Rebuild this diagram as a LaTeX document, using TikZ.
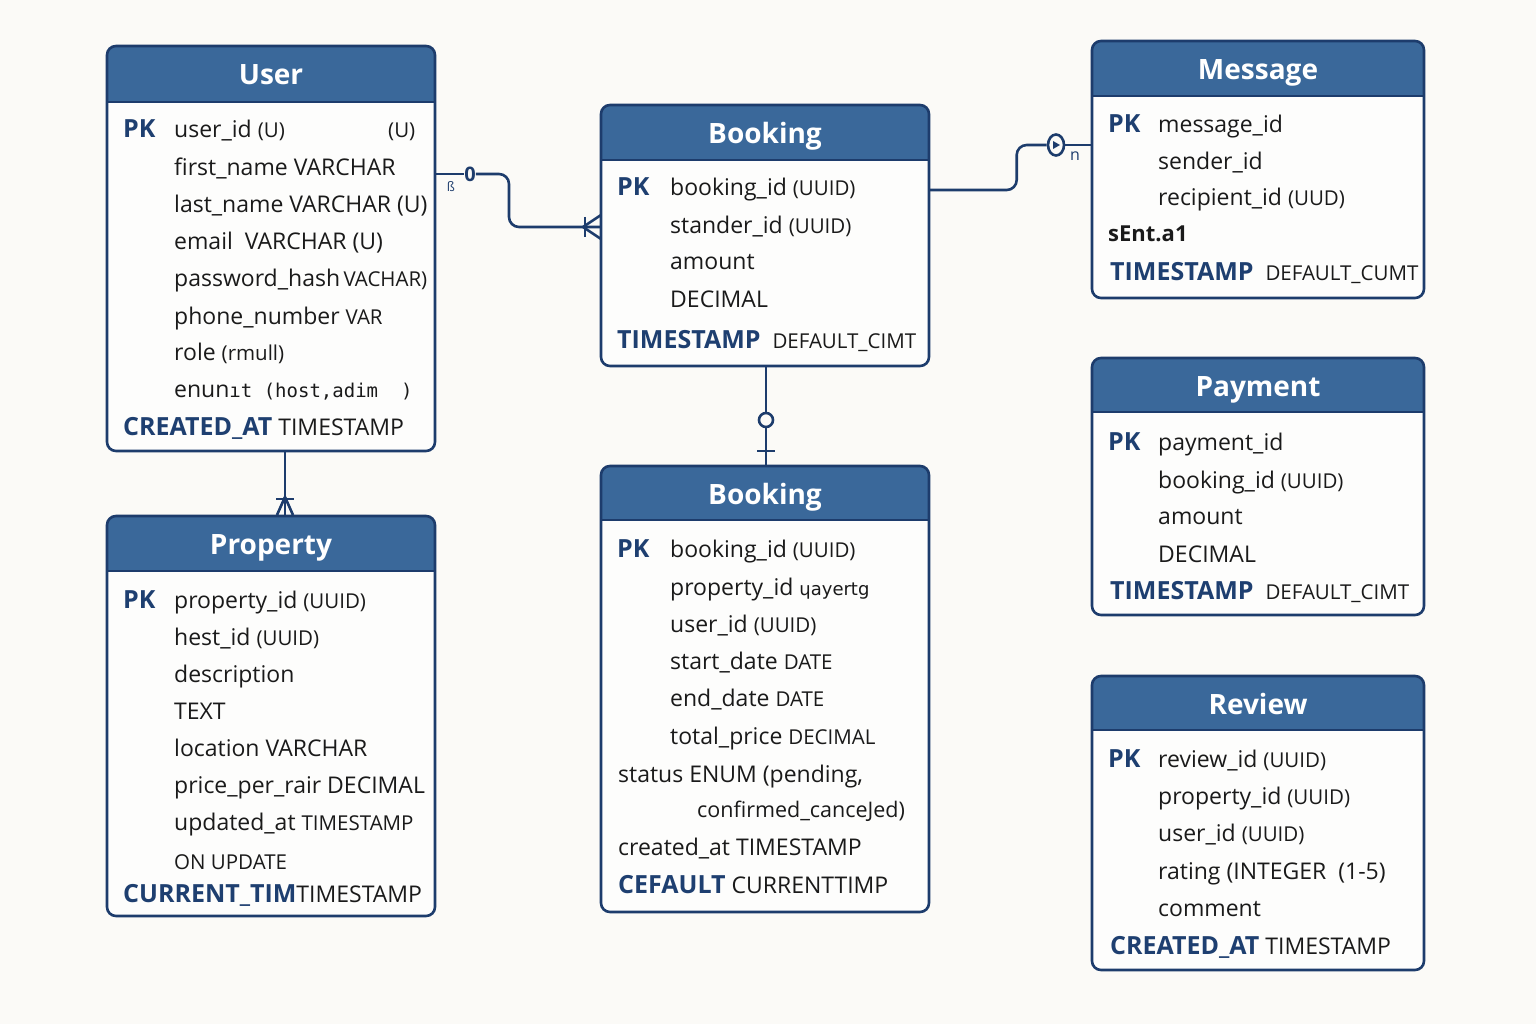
\documentclass[tikz,border=0pt]{standalone}
\usepackage{fontspec}
\setmainfont{Open Sans}
\newfontfamily\dvs{DejaVu Sans}
\newfontfamily\dvm{DejaVu Sans Mono}
\usetikzlibrary{fit,shapes.geometric}
\definecolor{hdr}{HTML}{3A689A}
\definecolor{navy}{HTML}{1D3C6C}
\definecolor{pkc}{HTML}{1E3F70}
\definecolor{bg}{HTML}{FBFAF7}
\definecolor{txt}{HTML}{1A1A1A}
\newcommand\tysz{\fontsize{20.5}{24}\selectfont}
\newcommand\bk[1]{{\color{pkc}\bfseries\fontsize{25}{29}\selectfont #1}}
\newcommand\rw[3]{\node[fld] (#1) at (#2) {#3};}
\newcommand\pkn[2]{\node[pk] (#1) at (#2) {PK};}
\newcommand\erbox[7]{%
  \node[fit={(#2,#3) (#4,#5)}, inner sep=0pt, outer sep=0pt] (#1) {};
  \fill[bodyfill, rounded corners=9pt] (#2,#3) rectangle (#4,#5);
  \begin{scope}\clip[rounded corners=9pt] (#2,#3) rectangle (#4,#5);
  \fill[hdr] (#2,#3) rectangle (#4,#6);\end{scope}
  \draw[border] (#2,#6) -- (#4,#6);
  \draw[border, rounded corners=9pt] (#2,#3) rectangle (#4,#5);
  \node[title] (#1t) at ({(#2+#4)/2},{(#3+#6)/2+11}) {#7};}
\tikzset{
 border/.style={draw=navy, line width=2.6pt},
 bodyfill/.style={fill=white!60!bg},
 title/.style={anchor=base, text=white, font=\bfseries\fontsize{28}{32}\selectfont, inner sep=0pt},
 fld/.style={anchor=base west, inner sep=0pt, text=txt, font=\fontsize{23}{27}\selectfont},
 pk/.style={anchor=base west, inner sep=0pt, text=pkc, font=\bfseries\fontsize{25}{29}\selectfont},
 conn/.style={draw=navy, line width=2.6pt},
 lbl/.style={inner sep=0pt, text=navy},
}
\begin{document}
\begin{tikzpicture}[x=1pt,y=-1pt]
\fill[bg] (0,0) rectangle (1536,1024);
\useasboundingbox (0,0) rectangle (1536,1024);

% ---------- User
\erbox{user}{107}{46}{435}{451}{102}{User}
\pkn{upk}{123,138}
\rw{u1}{174,138}{user\_id {\tysz (U)}}
\rw{u1b}{388,138}{\tysz (U)}
\rw{u2}{174,176}{first\_name VARCHAR}
\rw{u3}{174,213}{last\_name VARCHAR (U)}
\rw{u4}{174,250}{email\ \ VARCHAR (U)}
\rw{u5}{174,287}{password\_hash{\tysz\,VACHAR)}}
\rw{u6}{174,324}{phone\_number\ {\tysz VAR}}
\rw{u7}{174,360}{role\ {\tysz (rmull)}}
\rw{u8}{174,397}{enun{\dvm\fontsize{19}{22}\selectfont ıt (host,adim\ \ )}}
\rw{u9}{123,435}{\bk{CREATED\_AT}\ TIMESTAMP}

% ---------- Property
\erbox{prop}{107}{516}{435}{916}{571}{Property}
\pkn{ppk}{123,608}
\rw{p1}{174,608}{property\_id {\tysz (UUID)}}
\rw{p2}{174,645}{hest\_id {\tysz (UUID)}}
\rw{p3}{174,682}{description}
\rw{p4}{174,719}{TEXT}
\rw{p5}{174,756}{location VARCHAR}
\rw{p6}{174,793}{price\_per\_rair DECIMAL}
\rw{p7}{174,830}{updated\_at {\tysz TIMESTAMP}}
\rw{p8}{174,869}{\tysz ON UPDATE}
\rw{p9}{123,902}{\bk{CURRENT\_TIM}TIMESTAMP}

% ---------- Booking (top)
\erbox{bka}{601}{105}{929}{366}{160}{Booking}
\pkn{apk}{617,196}
\rw{a1}{670,196}{booking\_id {\tysz (UUID)}}
\rw{a2}{670,234}{stander\_id {\tysz (UUID)}}
\rw{a3}{670,270}{amount}
\rw{a4}{670,308}{DECIMAL}
\rw{a5}{617,348}{\bk{TIMESTAMP}\ \ {\tysz DEFAULT\_CIMT}}

% ---------- Booking (bottom)
\erbox{bkb}{601}{466}{929}{912}{520}{Booking}
\pkn{bpk}{617,557}
\rw{b1}{670,557}{booking\_id {\tysz (UUID)}}
\rw{b2}{670,595}{property\_id {\dvs\fontsize{18}{22}\selectfont ɥayertg}}
\rw{b3}{670,632}{user\_id {\tysz (UUID)}}
\rw{b4}{670,669}{start\_date {\tysz DATE}}
\rw{b5}{670,706}{end\_date {\tysz DATE}}
\rw{b6}{670,744}{total\_price {\tysz DECIMAL}}
\rw{b7}{618,782}{status ENUM (pending,}
\rw{b8}{697,817}{{\fontsize{21.5}{24}\selectfont confirmed\_canceJed)}}
\rw{b9}{618,855}{created\_at TIMESTAMP}
\rw{b10}{618,893}{\bk{CEFAULT}\ CURRENTTIMP}

% ---------- Message
\erbox{msg}{1092}{41}{1424}{298}{96}{Message}
\pkn{mpk}{1108,133}
\rw{m1}{1158,133}{message\_id}
\rw{m2}{1158,170}{sender\_id}
\rw{m3}{1158,206}{recipient\_id {\tysz (UUD)}}
\rw{m4}{1108,242}{{\bfseries\fontsize{22}{25}\selectfont sEnt.a1}}
\rw{m5}{1110,280}{\bk{TIMESTAMP}\ \ {\tysz DEFAULT\_CUMT}}

% ---------- Payment
\erbox{pay}{1092}{358}{1424}{615}{412}{Payment}
\pkn{ypk}{1108,450}
\rw{y1}{1158,450}{payment\_id}
\rw{y2}{1158,488}{booking\_id {\tysz (UUID)}}
\rw{y3}{1158,524}{amount}
\rw{y4}{1158,562}{DECIMAL}
\rw{y5}{1110,599}{\bk{TIMESTAMP}\ \ {\tysz DEFAULT\_CIMT}}

% ---------- Review
\erbox{rev}{1092}{676}{1424}{970}{730}{Review}
\pkn{rpk}{1108,767}
\rw{r1}{1158,767}{review\_id {\tysz (UUID)}}
\rw{r2}{1158,804}{property\_id {\tysz (UUID)}}
\rw{r3}{1158,841}{user\_id {\tysz (UUID)}}
\rw{r4}{1158,879}{rating (INTEGER\ \ (1-5)}
\rw{r5}{1158,916}{comment}
\rw{r6}{1110,954}{\bk{CREATED\_AT}\ TIMESTAMP}

% ---------- Connector User -> Booking (top)
\coordinate (ue) at ([yshift=-128pt]user.north east);
\coordinate (aw) at ([yshift=-122pt]bka.north west);
\node[lbl, font=\bfseries\fontsize{20}{22}\selectfont] (zero) at (470,174) {0};
\node[lbl, font=\fontsize{13}{15}\selectfont] (ess) at (451,187) {ß};
\draw[conn] (ue) -- (zero.west);
\draw[conn, rounded corners=10pt] (zero.east) -| ([xshift=-92pt]aw) -- (aw);
\draw[conn] ([xshift=-16pt,yshift=10pt]aw) -- ([xshift=-16pt,yshift=-10pt]aw);
\draw[conn] ([xshift=-18pt]aw) -- ([yshift=12pt]aw);
\draw[conn] ([xshift=-18pt]aw) -- ([yshift=-12pt]aw);

% ---------- Connector Booking (top) -> Message
\coordinate (ae) at ([yshift=-85pt]bka.north east);
\coordinate (mw) at ([yshift=-104pt]msg.north west);
\node[ellipse, draw=navy, line width=2.6pt, minimum width=16pt, minimum height=21pt, inner sep=0pt] (circ) at (1056,145) {};
\fill[navy] ([xshift=-3pt,yshift=4pt]circ.center) -- ([xshift=-3pt,yshift=-4pt]circ.center) -- ([xshift=4pt]circ.center) -- cycle;
\draw[conn, rounded corners=10pt] (ae) -| ([xshift=-30pt]circ.west) -- (circ.west);
\draw[conn] (circ.east) -- (mw);
\node[lbl, font=\fontsize{16}{18}\selectfont] (enn) at (1075,156) {n};

% ---------- Connector Booking (top) -> Booking (bottom)
\node[circle, draw=navy, line width=2.6pt, minimum size=14pt, inner sep=0pt] (oc) at (766,420) {};
\draw[conn] ([xshift=1pt]bka.south) -- (oc.north);
\draw[conn] (oc.south) -- ([xshift=1pt]bkb.north);
\draw[conn] (757,451) -- (775,451);

% ---------- Connector User -> Property
\coordinate (us) at ([xshift=14pt]user.south);
\coordinate (pn) at ([xshift=14pt]prop.north);
\draw[conn] (us) -- (pn);
\draw[conn] ([xshift=-9pt,yshift=17pt]pn) -- ([xshift=9pt,yshift=17pt]pn);
\draw[conn] ([yshift=19pt]pn) -- ([xshift=-8pt,yshift=1pt]pn);
\draw[conn] ([yshift=19pt]pn) -- ([xshift=8pt,yshift=1pt]pn);
\end{tikzpicture}
\end{document}
